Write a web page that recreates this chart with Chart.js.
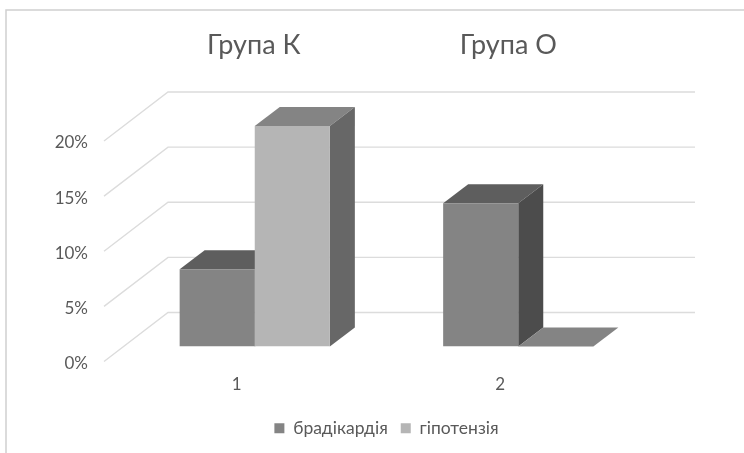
<!DOCTYPE html>
<html lang="uk">
<head>
    <meta charset="UTF-8">
    <title>Група К / Група О</title>
    <script src="https://cdn.jsdelivr.net/npm/chart.js"></script>
    <style>
        html, body { margin:0; padding:0; background:#fff; }
        #wrap { position:relative; width:744px; height:453px; }
    </style>
</head>
<body>
    <div id="wrap"><canvas id="chart" width="744" height="453"></canvas></div>
    <script>
    const categories = ['1', '2'];
    const groupTitles = ['Група К', 'Група О'];
    const seriesNames = ['брадікардія', 'гіпотензія'];
    const bradycardia = [7, 13];
    const hypotension = [20, 0];
    const yTicks = [0, 5, 10, 15, 20];

    const fontName = "Lato, 'Open Sans', 'Noto Sans', sans-serif";
    const textColor = '#595959';
    const frontColors = ['#848484', '#b5b5b5'];
    const topColors = ['#5e5e5e', '#848484'];
    const sideColors = ['#4c4c4c', '#676767'];

    // сдвиг боковой грани столбика и стенки графика
    const barDepth = { x: 25, y: 19 };
    const wallBack = { x: 45, y: 34 };
    const wallFront = { x: 19, y: 15 };

    function face(ctx, pts, color) {
        ctx.fillStyle = color;
        ctx.beginPath();
        pts.forEach((p, i) => i ? ctx.lineTo(p[0], p[1]) : ctx.moveTo(p[0], p[1]));
        ctx.closePath();
        ctx.fill();
    }

    const depthPlugin = {
        id: 'depth',
        beforeDraw(chart) {
            const ctx = chart.ctx;
            // рамка области диаграммы
            ctx.save();
            ctx.strokeStyle = '#d0d0d0';
            ctx.lineWidth = 1.5;
            ctx.beginPath();
            ctx.moveTo(6, chart.height);
            ctx.lineTo(6, 10);
            ctx.lineTo(chart.width, 10);
            ctx.stroke();
            ctx.restore();
        },
        beforeDatasetsDraw(chart) {
            const ctx = chart.ctx;
            const y = chart.scales.y;
            const area = chart.chartArea;
            ctx.save();
            // сетка на стенке и на полу
            ctx.strokeStyle = '#dcdcdc';
            ctx.lineWidth = 1.4;
            yTicks.forEach(v => {
                const py = y.getPixelForValue(v);
                ctx.beginPath();
                ctx.moveTo(area.left - wallFront.x, py + wallFront.y);
                ctx.lineTo(area.left + wallBack.x, py - wallBack.y);
                ctx.lineTo(area.right + wallBack.x, py - wallBack.y);
                ctx.stroke();
            });
            // верхние и боковые грани столбиков
            chart.data.datasets.forEach((ds, di) => {
                chart.getDatasetMeta(di).data.forEach(bar => {
                    const l = bar.x - bar.width / 2;
                    const r = bar.x + bar.width / 2;
                    const t = bar.y;
                    const b = bar.base;
                    const dx = barDepth.x, dy = barDepth.y;
                    face(ctx, [[l, t], [r, t], [r + dx, t - dy], [l + dx, t - dy]], topColors[di]);
                    if (b > t) face(ctx, [[r, t], [r + dx, t - dy], [r + dx, b - dy], [r, b]], sideColors[di]);
                });
            });
            ctx.restore();
        },
        afterDraw(chart) {
            const ctx = chart.ctx;
            const x = chart.scales.x;
            ctx.save();
            ctx.fillStyle = textColor;
            ctx.font = '27px ' + fontName;
            ctx.textAlign = 'center';
            ctx.textBaseline = 'middle';
            groupTitles.forEach((t, i) => {
                ctx.fillText(t, x.getPixelForValue(i) - 1 - 9 * i, 45);
            });
            ctx.restore();
        }
    };

    new Chart(document.getElementById('chart'), {
        type: 'bar',
        data: {
            labels: categories,
            datasets: [
                { label: seriesNames[0], data: bradycardia, backgroundColor: frontColors[0], borderWidth: 0, barPercentage: 1, categoryPercentage: 0.57 },
                { label: seriesNames[1], data: hypotension, backgroundColor: frontColors[1], borderWidth: 0, barPercentage: 1, categoryPercentage: 0.57 }
            ]
        },
        options: {
            responsive: false,
            animation: false,
            layout: { padding: { top: 126, right: 94, left: 0, bottom: 6 } },
            plugins: {
                title: { display: false },
                tooltip: { enabled: false },
                legend: {
                    position: 'bottom',
                    fullSize: false,
                    labels: {
                        boxWidth: 10,
                        boxHeight: 10,
                        padding: 13,
                        color: textColor,
                        font: { family: fontName, size: 17.5 }
                    }
                }
            },
            scales: {
                x: {
                    grid: { display: false, drawTicks: false },
                    border: { display: false },
                    ticks: { color: textColor, padding: 28, labelOffset: -18, maxRotation: 0, font: { family: fontName, size: 17 } },
                    afterFit(s) { s.height = 60; }
                },
                y: {
                    min: 0,
                    max: 20,
                    grid: { display: false, drawTicks: false },
                    border: { display: false },
                    ticks: {
                        stepSize: 5,
                        color: textColor,
                        padding: 35,
                        labelOffset: 17,
                        font: { family: fontName, size: 17 },
                        callback: v => v + '%'
                    },
                    afterFit(s) { s.width = 123; }
                }
            }
        },
        plugins: [depthPlugin]
    });
    </script>
</body>
</html>
